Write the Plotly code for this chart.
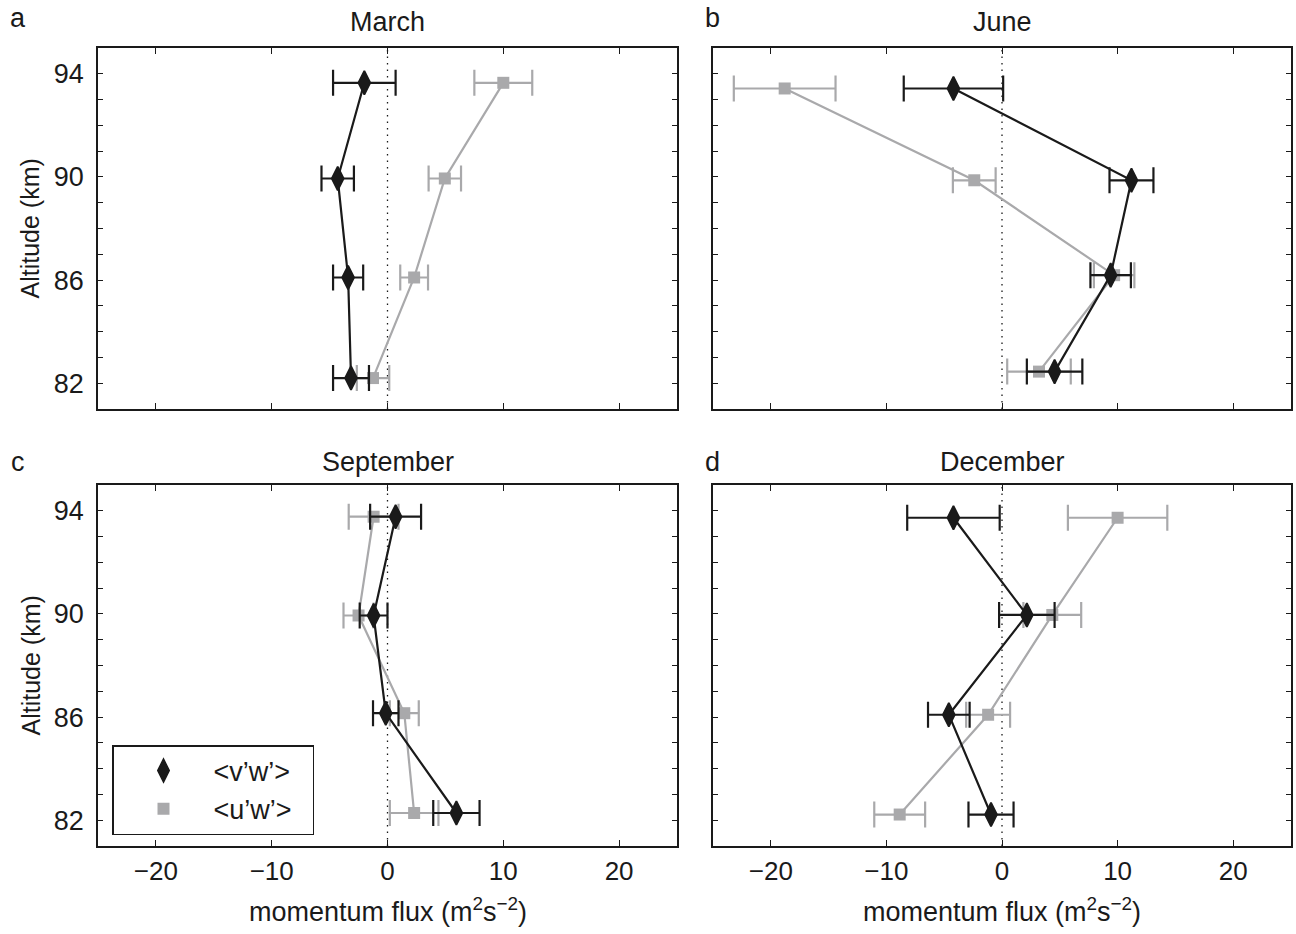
import plotly.graph_objects as go

# ---------------- data ----------------
months = ["March", "June", "September", "December"]
letters = ["a", "b", "c", "d"]

alt_a = [93.65, 89.94, 86.10, 82.20]
vw_a = [-2.0, -4.3, -3.4, -3.15]
vw_a_err = [2.7, 1.4, 1.3, 1.55]
uw_a = [10.0, 4.95, 2.3, -1.25]
uw_a_err = [2.5, 1.4, 1.2, 1.4]

alt_b = [93.43, 89.87, 86.19, 82.45]
vw_b = [-4.2, 11.2, 9.4, 4.55]
vw_b_err = [4.3, 1.9, 1.75, 2.4]
uw_b = [-18.8, -2.4, 9.7, 3.2]
uw_b_err = [4.4, 1.85, 1.75, 2.75]

alt_c = [93.77, 89.94, 86.15, 82.28]
vw_c = [0.7, -1.2, -0.15, 5.95]
vw_c_err = [2.2, 1.2, 1.1, 2.0]
uw_c = [-1.2, -2.5, 1.45, 2.3]
uw_c_err = [2.15, 1.3, 1.25, 2.1]

alt_d = [93.73, 89.96, 86.09, 82.22]
vw_d = [-4.2, 2.15, -4.6, -0.95]
vw_d_err = [4.0, 2.4, 1.8, 1.95]
uw_d = [10.0, 4.35, -1.2, -8.85]
uw_d_err = [4.3, 2.5, 1.9, 2.2]

x_ticks = [-20, -10, 0, 10, 20]
y_tick_all = list(range(81, 96))
y_tick_labels = [82, 86, 90, 94]

panels = [
    (alt_a, vw_a, vw_a_err, uw_a, uw_a_err),
    (alt_b, vw_b, vw_b_err, uw_b, uw_b_err),
    (alt_c, vw_c, vw_c_err, uw_c, uw_c_err),
    (alt_d, vw_d, vw_d_err, uw_d, uw_d_err),
]

# ---------------- styling ----------------
W, H = 1296, 934
BLACK = "#1a1a1a"
GREY = "#a9a9ab"
FONT = "Liberation Sans, Arial, sans-serif"

# pixel boxes of the four axes (left, right, top, bottom)
boxes = [(98, 677, 48, 409), (713, 1291, 48, 409),
         (98, 677, 485, 846), (713, 1291, 485, 846)]
title_y = [22, 22, 462, 462]
letter_pos = [(18, 18), (713, 18), (18, 462), (713, 462)]

fig = go.Figure()
layout = dict(width=W, height=H, margin=dict(l=0, r=0, t=0, b=0, pad=0),
              paper_bgcolor="white", plot_bgcolor="white",
              font=dict(family=FONT, color=BLACK, size=20),
              showlegend=True, hovermode=False)

annotations = []
shapes = []

for i, (alt, vw, vwe, uw, uwe) in enumerate(panels):
    n = i + 1
    xa = "x" if n == 1 else f"x{n}"
    ya = "y" if n == 1 else f"y{n}"
    l, r, t, b = boxes[i]
    xdom = [l / W, r / W]
    ydom = [1 - b / H, 1 - t / H]
    bottom_row = i >= 2
    left_col = i % 2 == 0

    # u'w' (grey) first, then v'w' (black) on top
    fig.add_trace(go.Scatter(
        x=uw, y=alt, xaxis=xa, yaxis=ya, mode="lines+markers",
        line=dict(color=GREY, width=2.2),
        marker=dict(symbol="square", size=12, color=GREY),
        error_x=dict(type="data", array=uwe, visible=True, color=GREY,
                     thickness=2.2, width=13),
        showlegend=False, hoverinfo="skip"))
    fig.add_trace(go.Scatter(
        x=vw, y=alt, xaxis=xa, yaxis=ya, mode="lines+markers",
        line=dict(color=BLACK, width=2.2),
        marker=dict(symbol="diamond-tall", size=17, color=BLACK,
                    line=dict(color=BLACK, width=1.8)),
        error_x=dict(type="data", array=vwe, visible=True, color=BLACK,
                     thickness=2.2, width=13),
        showlegend=False, hoverinfo="skip"))

    layout["xaxis" if n == 1 else f"xaxis{n}"] = dict(
        domain=xdom, anchor=ya, range=[-25, 25],
        tickmode="array", tickvals=x_ticks,
        ticktext=[("\u2212" + str(-v) if v < 0 else str(v)) for v in x_ticks] if bottom_row else [""] * len(x_ticks),
        ticks="inside", ticklen=6, tickwidth=1, tickcolor=BLACK,
        showline=True, linecolor=BLACK, linewidth=1.5, mirror="allticks",
        showgrid=False, zeroline=False,
        tickfont=dict(family=FONT, size=26, color=BLACK),
        ticklabelstandoff=1, fixedrange=True)
    layout["yaxis" if n == 1 else f"yaxis{n}"] = dict(
        domain=ydom, anchor=xa, range=[81, 95],
        tickmode="array", tickvals=y_tick_all,
        ticktext=[(str(v) if v in y_tick_labels else "") for v in y_tick_all] if left_col else [""] * len(y_tick_all),
        ticks="inside", ticklen=5, tickwidth=1, tickcolor=BLACK,
        showline=True, linecolor=BLACK, linewidth=1.5, mirror="allticks",
        showgrid=False, zeroline=False,
        tickfont=dict(family=FONT, size=27, color=BLACK),
        ticklabelstandoff=7, fixedrange=True)

    # dotted zero line
    shapes.append(dict(type="line", xref=xa, yref=f"{ya} domain",
                       x0=0, x1=0, y0=0, y1=1,
                       line=dict(color=BLACK, width=1.3, dash="1.5px,5px"),
                       layer="below"))

    # month title
    annotations.append(dict(text=months[i], xref="paper", yref="paper",
                            x=(l + r) / 2 / W, y=1 - title_y[i] / H,
                            xanchor="center", yanchor="middle", showarrow=False,
                            font=dict(family=FONT, size=27, color=BLACK)))
    # panel letter
    lx, ly = letter_pos[i]
    annotations.append(dict(text=letters[i], xref="paper", yref="paper",
                            x=lx / W, y=1 - ly / H,
                            xanchor="center", yanchor="middle", showarrow=False,
                            font=dict(family=FONT, size=27, color=BLACK)))
    # y axis title
    if left_col:
        annotations.append(dict(text="Altitude (km)", xref="paper", yref="paper",
                                x=30 / W, y=1 - (t + b) / 2 / H, textangle=-90,
                                xanchor="center", yanchor="middle", showarrow=False,
                                font=dict(family=FONT, size=25, color=BLACK)))
    # x axis title
    if bottom_row:
        annotations.append(dict(text="momentum flux (m<sup>2</sup>s<sup>\u22122</sup>)",
                                xref="paper", yref="paper",
                                x=(l + r) / 2 / W, y=1 - 910 / H,
                                xanchor="center", yanchor="middle", showarrow=False,
                                font=dict(family=FONT, size=27, color=BLACK)))

# legend entries (markers only), shown in panel c
fig.add_trace(go.Scatter(x=[None], y=[None], xaxis="x3", yaxis="y3", mode="markers",
                         name="<v\u2019w\u2019>\u00a0\u00a0",
                         marker=dict(symbol="diamond-tall", size=17, color=BLACK,
                                     line=dict(color=BLACK, width=1.8))))
fig.add_trace(go.Scatter(x=[None], y=[None], xaxis="x3", yaxis="y3", mode="markers",
                         name="<u\u2019w\u2019>\u00a0\u00a0",
                         marker=dict(symbol="square", size=12, color=GREY)))

layout["legend"] = dict(x=112 / W, y=1 - 745 / H, xanchor="left", yanchor="top",
                        bordercolor=BLACK, borderwidth=1.5, bgcolor="white",
                        font=dict(family=FONT, size=27, color=BLACK),
                        itemwidth=90, tracegroupgap=0)
layout["annotations"] = annotations
layout["shapes"] = shapes
fig.update_layout(**layout)

fig.write_html("out.html", config={"displayModeBar": False, "staticPlot": False},
               post_script="document.body.style.margin='0';document.body.style.overflow='hidden';")
